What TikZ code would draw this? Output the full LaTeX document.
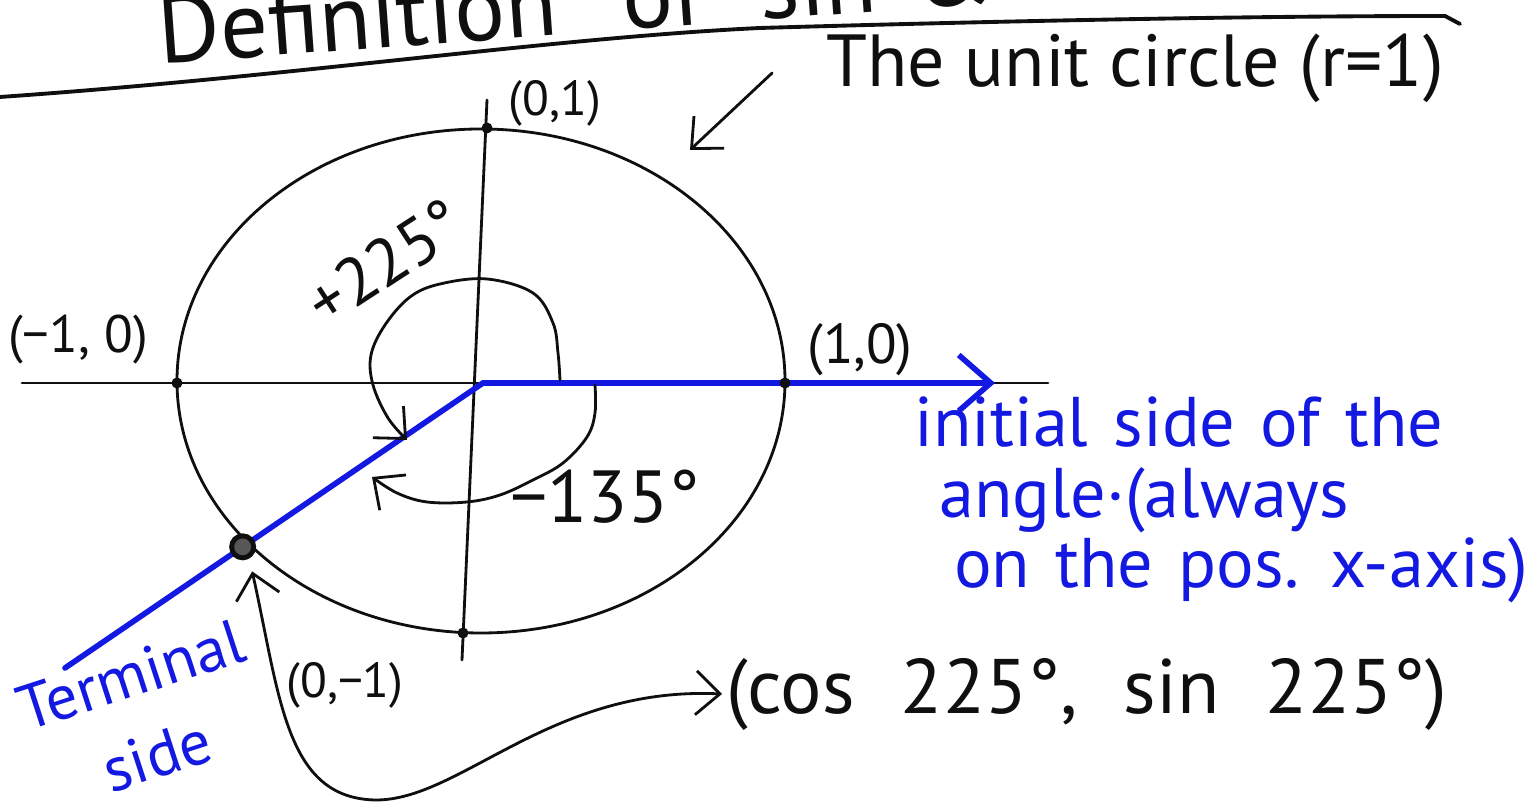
\documentclass[tikz,border=0pt]{standalone}
\usepackage{fontspec}
\setmainfont{PT Sans}
\usetikzlibrary{arrows.meta,positioning,calc}
\definecolor{penblue}{RGB}{20,25,225}
\definecolor{penblack}{RGB}{15,15,15}
\newcommand{\widespaces}[1]{\spaceskip=#1 plus 0.1em\relax}
\tikzset{
  inkline/.style={draw=penblack,line width=0.8pt,line cap=round},
  blueline/.style={draw=penblue,line width=1.6pt,line cap=round},
  arr/.style={inkline,-{Straight Barb[length=2.4mm,width=4.4mm]}},
  dblarr/.style={inkline,{Straight Barb[length=2.4mm,width=4.4mm]}-{Straight Barb[length=2.4mm,width=4.4mm]}},
  bluearr/.style={blueline,-{Straight Barb[length=3.2mm,width=5.6mm]}},
  dotnode/.style={circle,fill=penblack,inner sep=0pt,minimum size=1.1mm},
  bigdot/.style={circle,draw=penblack,fill=penblack!70,line width=1.4pt,inner sep=0pt,minimum size=2.2mm},
  handtext/.style={text=penblack,inner sep=1pt,font=\fontsize{19}{22}\selectfont},
  smalltext/.style={handtext,font=\fontsize{14}{16}\selectfont},
  bluetext/.style={text=penblue,inner sep=1pt,align=left,
    font=\fontsize{20}{20}\selectfont\widespaces{0.36em}},
  titletext/.style={text=penblack,inner sep=0pt,font=\fontsize{27}{30}\selectfont}
}

\begin{document}
\begin{tikzpicture}
  \useasboundingbox (0,0) rectangle (15.33,8.06);

  %% title, cut by the top edge
  \node[titletext,anchor=base west,rotate=4.2] (title) at (1.6,7.42)
    {Definition\hspace{0.7em}of\hspace{0.6em}sin\hspace{0.4em}\&\hspace{0.4em}cos};
  \draw[inkline,line width=1.1pt] (0,7.09) .. controls (3.0,7.3) and (5.5,7.68) .. (7.6,7.78)
      .. controls (10,7.85) and (12.5,7.9) .. (14.45,7.9) -- (14.6,7.82);

  %% unit circle and axes
  \coordinate (O) at (4.83,4.23);
  \coordinate (xl) at (0.22,4.23);
  \coordinate (xr) at (10.48,4.23);
  \coordinate (yt) at (4.87,7.06);
  \coordinate (yb) at (4.62,1.46);
  \draw[inkline] (4.81,4.25) ellipse [x radius=3.04, y radius=2.52];
  \draw[inkline] (xl) -- (xr);
  \draw[inkline] (yt) -- (yb);

  %% initial and terminal side
  \coordinate (tend) at (0.65,1.38);
  \coordinate (itip) at (9.95,4.23);
  \draw[bluearr] (O) -- (itip);
  \draw[blueline] (O) -- (tend);

  %% points on the circle
  \node[dotnode] (ptleft) at (1.77,4.23) {};
  \node[dotnode] (ptright) at (7.85,4.23) {};
  \node[dotnode] (pttop) at (4.87,6.78) {};
  \node[dotnode] (ptbot) at (4.63,1.73) {};
  \node[bigdot] (ptterm) at ($(O)!0.575!(tend)$) {};

  %% the two angles
  \draw[arr] plot[smooth,tension=0.6] coordinates {(5.60,4.26) (5.58,4.53) (5.53,4.83) (5.33,5.13)
      (4.87,5.27) (4.40,5.22) (4.10,5.09) (3.85,4.81) (3.71,4.51) (3.73,4.21) (3.88,3.88) (4.07,3.66)};
  \draw[arr] plot[smooth,tension=0.6] coordinates {(5.95,4.21) (5.95,3.93) (5.87,3.69) (5.63,3.43)
      (5.33,3.26) (5.00,3.11) (4.67,3.04) (4.27,3.04) (3.97,3.13) (3.72,3.29)};

  %% labels
  \node[smalltext] (lbltop) at (5.55,7.03) {(0,1)};
  \node[handtext,font=\fontsize{15}{18}\selectfont] (lblleft) at (0.78,4.66) {(−1, 0)};
  \node[handtext,font=\fontsize{16}{20}\selectfont] (lblright) at (8.60,4.56) {(1,0)};
  \node[handtext,font=\fontsize{14}{18}\selectfont] (lblbot) at (3.45,1.21) {(0,−1)};
  \node[handtext,rotate=33] (lblpos) at (3.85,5.44) {+225°};
  \node[handtext,font=\fontsize{21}{24}\selectfont] (lblneg) at (6.05,3.09) {−135°};

  \node[handtext,font=\fontsize{21}{24}\selectfont] (unitlbl) at (11.35,7.38) {The unit circle (r=1)};
  \coordinate (circtip) at (6.90,6.56);
  \draw[arr] ([xshift=-5mm,yshift=-0.5mm]unitlbl.west) -- (circtip);

  \node[bluetext,anchor=north west] (initlbl) at (9.1,4.13)
    {initial side of the\\\hspace{0.25cm}angle·(always\\\hspace{0.4cm}on the pos. x-axis)};
  \node[bluetext,align=center,rotate=18,font=\fontsize{18}{24}\selectfont] (termlbl) at (1.44,0.91)
    {Terminal\\side};

  \node[handtext,anchor=west,font=\fontsize{22}{24}\selectfont\widespaces{0.6em}] (coslbl) at (7.22,1.12)
    {(cos 225°, sin 225°)};
  \draw[dblarr] ([yshift=-1.5mm]ptterm.south east) .. controls (2.8,1.1) and (2.85,0.08) .. (3.75,0.06)
      .. controls (4.6,0.05) and (5.5,1.2) .. (coslbl.west);
\end{tikzpicture}
\end{document}
